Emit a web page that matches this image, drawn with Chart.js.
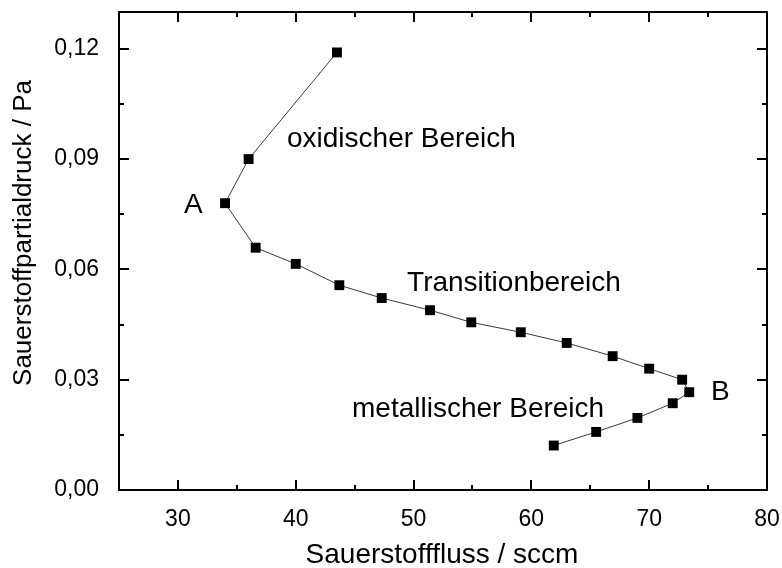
<!DOCTYPE html>
<html lang="de">
<head>
<meta charset="utf-8">
<title>Sauerstoffpartialdruck über Sauerstofffluss</title>
<script src="https://cdn.jsdelivr.net/npm/chart.js@4.4.1/dist/chart.umd.min.js"></script>
<style>
  html, body { margin: 0; padding: 0; background: #ffffff; }
  #wrap { width: 782px; height: 568px; }
  canvas { display: block; }
</style>
</head>
<body>
<div id="wrap"><canvas id="chart" width="782" height="568"></canvas></div>
<script>
// Messreihe: Sauerstofffluss (sccm) und zugehöriger Partialdruck (Pa), in Messreihenfolge
const flowSccm = [43.5, 36.0, 34.0, 36.6, 40.0, 43.7, 47.3, 51.4, 54.9, 59.1, 63.0, 66.9, 70.0, 72.8, 73.4, 72.0, 69.0, 65.5, 61.9];
const pressurePa = [0.119, 0.090, 0.078, 0.0659, 0.0615, 0.0557, 0.0522, 0.0489, 0.0456, 0.0429, 0.0400, 0.0364, 0.0330, 0.0300, 0.0266, 0.0236, 0.0196, 0.0158, 0.0121];

// Achsenbeschriftungen
const xTicks = [30, 40, 50, 60, 70, 80];
const xMinorTicks = [35, 45, 55, 65, 75];
const yTicks = [0, 0.03, 0.06, 0.09, 0.12];
const yMinorTicks = [0.015, 0.045, 0.075, 0.105];
const yTickLabels = ['0,00', '0,03', '0,06', '0,09', '0,12'];
const xTitle = 'Sauerstofffluss / sccm';
const yTitle = 'Sauerstoffpartialdruck / Pa';

// Bereichsbezeichnungen im Diagramm
const regionTexts = ['oxidischer Bereich', 'A', 'Transitionbereich', 'B', 'metallischer Bereich'];
const regionX = [39.26, 30.52, 49.45, 75.25, 44.78];
const regionY = [0.0933, 0.0753, 0.0541, 0.0245, 0.0199];

const FONT = '"Liberation Sans", Arial, Helvetica, sans-serif';

// Rahmen mit nach innen zeigenden Haupt- und Nebenstrichen auf allen vier Seiten
const framePlugin = {
  id: 'frameTicks',
  afterDatasetsDraw(chart) {
    const { ctx, chartArea: a, scales } = chart;
    const xs = scales.x, ys = scales.y;
    ctx.save();
    ctx.strokeStyle = '#000';
    ctx.lineWidth = 2;
    ctx.lineCap = 'butt';
    ctx.beginPath();
    const tick = (px, len, vertical) => {
      if (vertical) {
        ctx.moveTo(px, a.bottom); ctx.lineTo(px, a.bottom - len);
        ctx.moveTo(px, a.top); ctx.lineTo(px, a.top + len);
      } else {
        ctx.moveTo(a.left, px); ctx.lineTo(a.left + len, px);
        ctx.moveTo(a.right, px); ctx.lineTo(a.right - len, px);
      }
    };
    xTicks.forEach(v => tick(Math.round(xs.getPixelForValue(v)), 10, true));
    xMinorTicks.forEach(v => tick(Math.round(xs.getPixelForValue(v)), 5, true));
    yTicks.forEach(v => tick(Math.round(ys.getPixelForValue(v)), 10, false));
    yMinorTicks.forEach(v => tick(Math.round(ys.getPixelForValue(v)), 5, false));
    ctx.stroke();
    ctx.strokeRect(a.left, a.top, a.right - a.left, a.bottom - a.top);
    ctx.restore();
  },
  afterDraw(chart) {
    const { ctx, chartArea: a, scales } = chart;
    ctx.save();
    ctx.fillStyle = '#000';
    // Bereichsbezeichnungen
    ctx.font = '28px ' + FONT;
    ctx.textAlign = 'left';
    ctx.textBaseline = 'alphabetic';
    regionTexts.forEach((t, i) => {
      ctx.fillText(t, scales.x.getPixelForValue(regionX[i]), scales.y.getPixelForValue(regionY[i]));
    });
    // Achsentitel
    ctx.textAlign = 'center';
    ctx.font = '28px ' + FONT;
    ctx.fillText(xTitle, (a.left + a.right) / 2 - 1, chart.height - 5);
    ctx.translate(31, (a.top + a.bottom) / 2 - 18);
    ctx.rotate(-Math.PI / 2);
    ctx.font = '26px ' + FONT;
    ctx.fillText(yTitle, 0, 0);
    ctx.restore();
  }
};

const points = flowSccm.map((x, i) => ({ x, y: pressurePa[i] }));

new Chart(document.getElementById('chart'), {
  type: 'scatter',
  data: {
    datasets: [{
      data: points,
      showLine: true,
      borderColor: '#3a3a3a',
      borderWidth: 1,
      tension: 0,
      pointStyle: 'rect',
      pointRadius: 7,
      pointHoverRadius: 7,
      pointBackgroundColor: '#000',
      pointBorderWidth: 0,
      clip: false
    }]
  },
  options: {
    responsive: false,
    animation: false,
    devicePixelRatio: 1,
    layout: { padding: { left: 0, right: 15, top: 12, bottom: 0 } },
    plugins: { legend: { display: false }, tooltip: { enabled: false } },
    scales: {
      x: {
        type: 'linear',
        min: 25,
        max: 80,
        grid: { display: false },
        border: { display: false },
        afterBuildTicks: s => { s.ticks = xTicks.map(v => ({ value: v })); },
        afterFit: s => { s.height = 78; s.paddingLeft = 0; s.paddingRight = 0; },
        ticks: {
          padding: 8,
          color: '#000',
          font: { family: FONT, size: 23 },
          callback: v => String(v)
        }
      },
      y: {
        type: 'linear',
        min: 0,
        max: 0.13,
        grid: { display: false },
        border: { display: false },
        afterBuildTicks: s => { s.ticks = yTicks.map(v => ({ value: v })); },
        afterFit: s => { s.width = 119; s.paddingTop = 0; s.paddingBottom = 0; },
        ticks: {
          padding: 12,
          color: '#000',
          font: { family: FONT, size: 23 },
          callback: (v, i) => yTickLabels[i]
        }
      }
    }
  },
  plugins: [framePlugin]
});
</script>
</body>
</html>
